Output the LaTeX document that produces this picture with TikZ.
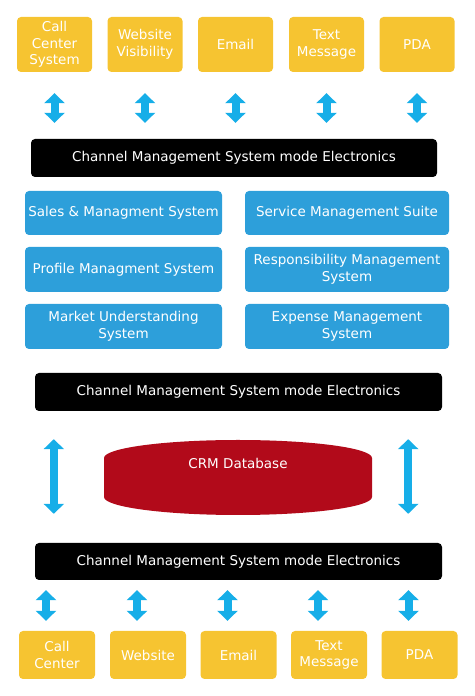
\documentclass[tikz,border=0pt]{standalone}
\usepackage{fontspec}
\setmainfont{DejaVu Sans}
\usetikzlibrary{arrows.meta,calc}
\definecolor{ybox}{HTML}{F6C431}
\definecolor{bbox}{HTML}{2D9FDA}
\definecolor{arrowblue}{HTML}{16AEE8}
\definecolor{crmred}{HTML}{B20A1A}
\newcommand\diagfont{\fontsize{13.5}{16.7}\selectfont}
\begin{document}
\begin{tikzpicture}[x=1pt,y=1pt,
  chan/.style={rectangle,rounded corners=4pt,fill=ybox,text=white,minimum width=75pt,minimum height=55pt,align=center,inner sep=0pt,font=\diagfont},
  bchan/.style={chan,minimum width=76pt,minimum height=48pt},
  module/.style={rectangle,rounded corners=4pt,fill=bbox,text=white,minimum height=44pt,align=center,inner sep=0pt,font=\diagfont},
  bar/.style={rectangle,rounded corners=4pt,fill=black,text=white,minimum height=38pt,inner sep=0pt,font=\diagfont},
  dbl/.style={draw=arrowblue,line width=8pt,{Triangle[width=20pt,length=10pt]}-{Triangle[width=20pt,length=10pt]}}
]
\useasboundingbox (0,0) rectangle (474,696);
% top channels
\node[chan] (t1) at (54.5,651.5) {Call\\Center\\System};
\node[chan] (t2) at (145,651.5) {Website\\Visibility};
\node[chan] (t3) at (235.5,651.5) {Email};
\node[chan] (t4) at (326.5,651.5) {Text\\Message};
\node[chan] (t5) at (417,651.5) {PDA};
% bar 1
\node[bar,minimum width=406pt] (bar1) at (234,538) {Channel Management System mode Electronics};
\foreach \n in {t1,t2,t3,t4,t5}
  \draw[dbl,shorten <=21pt,shorten >=16pt] (\n.south) -- (\n.south |- bar1.north);
% modules
\node[module,minimum width=197pt] (m1) at (123.5,483) {Sales \& Managment System};
\node[module,minimum width=204pt] (m2) at (347,483) {Service Management Suite};
\node[module,minimum width=197pt,minimum height=45pt] (m3) at (123.5,426.5) {Profile Managment System};
\node[module,minimum width=204pt,minimum height=45pt] (m4) at (347,426.5) {Responsibility Management\\System};
\node[module,minimum width=197pt,minimum height=45pt] (m5) at (123.5,369.5) {Market Understanding\\System};
\node[module,minimum width=204pt,minimum height=45pt] (m6) at (347,369.5) {Expense Management\\System};
% bar 2
\node[bar,minimum width=407pt] (bar2) at (238.5,304) {Channel Management System mode Electronics};
% database
\fill[crmred] (104,238) -- (104,199) arc[start angle=180,end angle=360,x radius=134,y radius=18]
  -- (372,238) arc[start angle=0,end angle=180,x radius=134,y radius=18] -- cycle;
\node[text=white,font=\diagfont,inner sep=0pt] (crm) at (238,233) {CRM Database};
% bar 3
\node[bar,minimum width=407pt,minimum height=37pt] (bar3) at (238.5,134.5) {Channel Management System mode Electronics};
\draw[dbl,shorten <=28pt,shorten >=29pt] ($(bar2.south west)+(19,0)$) -- ($(bar3.north west)+(19,0)$);
\draw[dbl,shorten <=28pt,shorten >=29pt] ($(bar2.south east)+(-34,0)$) -- ($(bar3.north east)+(-34,0)$);
% bottom channels
\node[bchan] (b1) at (57,41) {Call\\Center};
\node[bchan] (b2) at (148,41) {Website};
\node[bchan] (b3) at (238.5,41) {Email};
\node[bchan] (b4) at (329,41) {Text\\Message};
\node[bchan] (b5) at (419.5,41) {PDA};
\foreach \n in {b1,b2,b3,b4,b5}
  \draw[dbl,shorten <=10pt,shorten >=10pt] ([xshift=-11pt]\n.north |- bar3.south) -- ([xshift=-11pt]\n.north);
\end{tikzpicture}
\end{document}
